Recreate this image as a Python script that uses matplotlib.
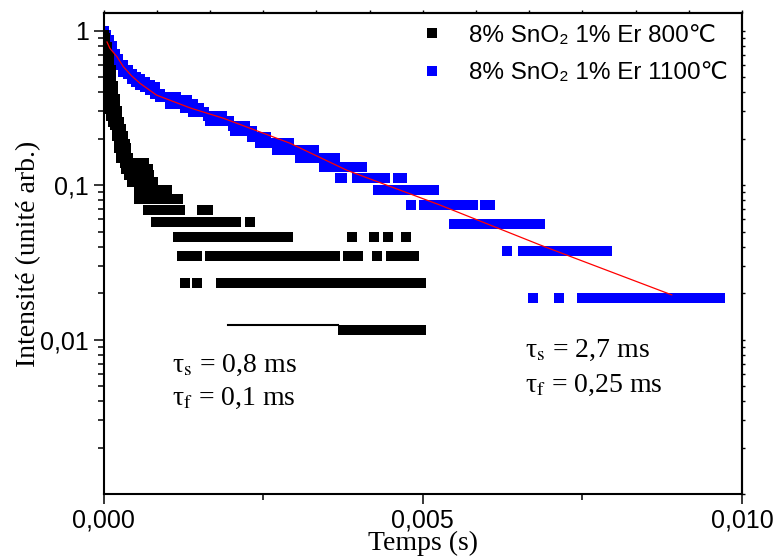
import numpy as np
import matplotlib.pyplot as plt
from matplotlib.ticker import LogLocator, NullFormatter

plt.rcParams['font.family'] = ['Liberation Sans', 'DejaVu Sans']
plt.rcParams['axes.linewidth'] = 1.5

# intensity of one count of the digitised signal
step_800 = 0.0116
step_1100 = 0.01865

# ---- 8% SnO2 1% Er 800C ----
# fast decay: time (ms), lowest / highest intensity seen at that time
fast_800_t = [0.00, 0.03, 0.06, 0.09, 0.12, 0.15, 0.18, 0.21, 0.24, 0.27, 0.30, 0.33, 0.36, 0.39]
fast_800_lo = [0.45, 0.43, 0.36, 0.31, 0.27, 0.25, 0.235, 0.20, 0.17, 0.15, 0.14, 0.13, 0.12, 0.116]
fast_800_hi = [0.95, 0.90, 0.80, 0.68, 0.56, 0.45, 0.37, 0.31, 0.26, 0.235, 0.21, 0.19, 0.175, 0.16]
# flat runs: level (counts), first and last time (ms)
runs_800_level = [12, 11, 10, 9, 8, 7, 6, 6, 5, 5, 4, 4, 4, 4, 4, 3, 3, 3, 3, 3, 2, 2, 2, 1]
runs_800_start = [0.40, 0.40, 0.40, 0.45, 0.55, 0.55, 0.70, 1.54, 0.82, 2.30, 1.17, 3.89, 4.24, 4.46, 4.74,
                  1.23, 1.67, 3.83, 4.28, 4.50, 1.27, 1.46, 1.84, 3.75]
runs_800_end = [0.65, 0.70, 0.72, 0.78, 1.00, 1.17, 1.20, 1.64, 2.09, 2.30, 2.89, 3.89, 4.24, 4.46, 4.74,
                1.48, 3.63, 3.99, 4.28, 4.86, 1.27, 1.46, 4.99, 4.97]
# thin trace under the lowest row
trace_800_t = [1.95, 3.67]
trace_800_v = [0.01245, 0.01245]

# ---- 8% SnO2 1% Er 1100C ----
fast_1100_t = [0.00, 0.04, 0.09, 0.13, 0.18, 0.23, 0.31, 0.38, 0.45, 0.51, 0.57, 0.65, 0.73, 0.81, 0.88, 0.96, 1.04, 1.12]
fast_1100_lo = [0.87, 0.85, 0.75, 0.665, 0.62, 0.59, 0.54, 0.51, 0.48, 0.46, 0.43, 0.42, 0.40, 0.385, 0.37, 0.355, 0.33, 0.33]
fast_1100_hi = [1.00, 0.95, 0.88, 0.81, 0.72, 0.66, 0.60, 0.56, 0.54, 0.52, 0.50, 0.48, 0.465, 0.43, 0.40, 0.385, 0.37, 0.36]
runs_1100_level = [20, 19, 18, 17, 16, 15, 14, 13, 12, 11, 10, 9, 8, 7, 6, 6, 6, 5, 4, 4, 4, 3, 2, 2, 1, 1, 1]
runs_1100_start = [1.04, 1.10, 1.20, 1.28, 1.40, 1.64, 1.67, 2.03, 2.06, 2.33, 2.45, 2.72, 3.08, 3.45,
                   3.70, 3.97, 4.61, 4.30, 4.81, 5.02, 5.97, 5.49, 6.32, 6.57, 6.72, 7.13, 7.49]
runs_1100_end = [1.15, 1.30, 1.40, 1.51, 1.59, 1.87, 1.98, 2.22, 2.33, 2.56, 2.92, 3.31, 3.63, 4.05,
                 3.74, 4.42, 4.68, 5.19, 4.81, 5.79, 6.05, 6.84, 6.32, 7.90, 6.72, 7.13, 9.66]

# bi-exponential fit of the 1100C decay
fit_t = [0.055, 0.10, 0.21, 0.31, 0.44, 0.57, 0.83, 1.36, 1.88, 2.92, 3.81, 5.27, 6.84, 8.90]
fit_v = [0.845, 0.769, 0.68, 0.585, 0.51, 0.457, 0.383, 0.316, 0.271, 0.187, 0.125, 0.0744, 0.041, 0.0195]


def points(fast_t, fast_lo, fast_hi, level, start, end, step):
    xs, ys = [], []
    for t, lo, hi in zip(fast_t, fast_lo, fast_hi):
        for k in range(int(np.ceil(lo / step)), int(np.floor(hi / step)) + 1):
            xs.append(t)
            ys.append(k * step)
    for k, a, b in zip(level, start, end):
        for t in np.arange(a, b + 0.001, 0.02):
            xs.append(t)
            ys.append(k * step)
    return np.array(xs) * 1e-3, np.array(ys)


x8, y8 = points(fast_800_t, fast_800_lo, fast_800_hi, runs_800_level, runs_800_start, runs_800_end, step_800)
x11, y11 = points(fast_1100_t, fast_1100_lo, fast_1100_hi, runs_1100_level, runs_1100_start, runs_1100_end, step_1100)

fig = plt.figure(figsize=(7.76, 5.59), dpi=100)
ax = fig.add_axes([103.5 / 776, 1 - 494.2 / 559, 638.5 / 776, 480.9 / 559])
ax.set_yscale('log')

h11, = ax.plot(x11, y11, 's', color='blue', ms=7.2, mew=0, label='8% SnO₂ 1% Er 1100℃')
h8, = ax.plot(x8, y8, 's', color='black', ms=7.2, mew=0, label='8% SnO₂ 1% Er 800℃')
ax.plot(np.array(trace_800_t) * 1e-3, trace_800_v, color='black', lw=1.5)
ax.plot(np.array(fit_t) * 1e-3, fit_v, color='red', lw=0.9)

ax.set_xlim(0, 0.010)
ax.set_ylim(0.001, 1.296)
ax.set_xticks([0, 0.005, 0.010], ['0,000', '0,005', '0,010'])
ax.set_xticks([0.0025, 0.0075], minor=True)
ax.set_yticks([0.01, 0.1, 1], ['0,01', '0,1', '1'])
ax.yaxis.set_minor_locator(LogLocator(subs=np.arange(2, 10)))
ax.yaxis.set_minor_formatter(NullFormatter())
ax.tick_params(which='major', direction='out', length=7, width=1.1, labelsize=18, pad=3.5)
ax.tick_params(which='minor', direction='out', length=4.5, width=1.1)

top = ax.secondary_xaxis('top')
top.set_xticks(np.linspace(0, 0.01, 13))
top.set_xticklabels([])
top.tick_params(direction='out', length=2.5, width=1.0)

right = ax.secondary_yaxis('right')
right.yaxis.set_major_locator(LogLocator(subs=np.arange(1, 10)))
right.yaxis.set_major_formatter(NullFormatter())
right.tick_params(direction='out', length=2.5, width=1.0)

ax.set_xlabel('Temps (s)', family='Liberation Serif', size=20)
ax.xaxis.set_label_coords(0.5, -0.077)
ax.set_ylabel('Intensité (unité arb.)', family='Liberation Serif', size=20)
ax.yaxis.set_label_coords(-0.098, 0.5)

ax.legend(handles=[h8, h11], loc='upper left', bbox_to_anchor=(0.4957, 0.9757), frameon=False,
          fontsize=17.5, handlelength=1.0, handletextpad=1.0, labelspacing=0.62,
          borderpad=0, borderaxespad=0)

txt = dict(family='Liberation Serif', size=20, math_fontfamily='stix', va='baseline')
ax.text(1.08e-3, 0.00621, 'τ$_\\mathrm{s}$ = 0,8 ms', **txt)
ax.text(1.08e-3, 0.003778, 'τ$_\\mathrm{f}$ = 0,1 ms', **txt)
ax.text(6.60e-3, 0.00776, 'τ$_\\mathrm{s}$ = 2,7 ms', **txt)
ax.text(6.60e-3, 0.004606, 'τ$_\\mathrm{f}$ = 0,25 ms', **txt)

fig.savefig('out.png', dpi=100)
